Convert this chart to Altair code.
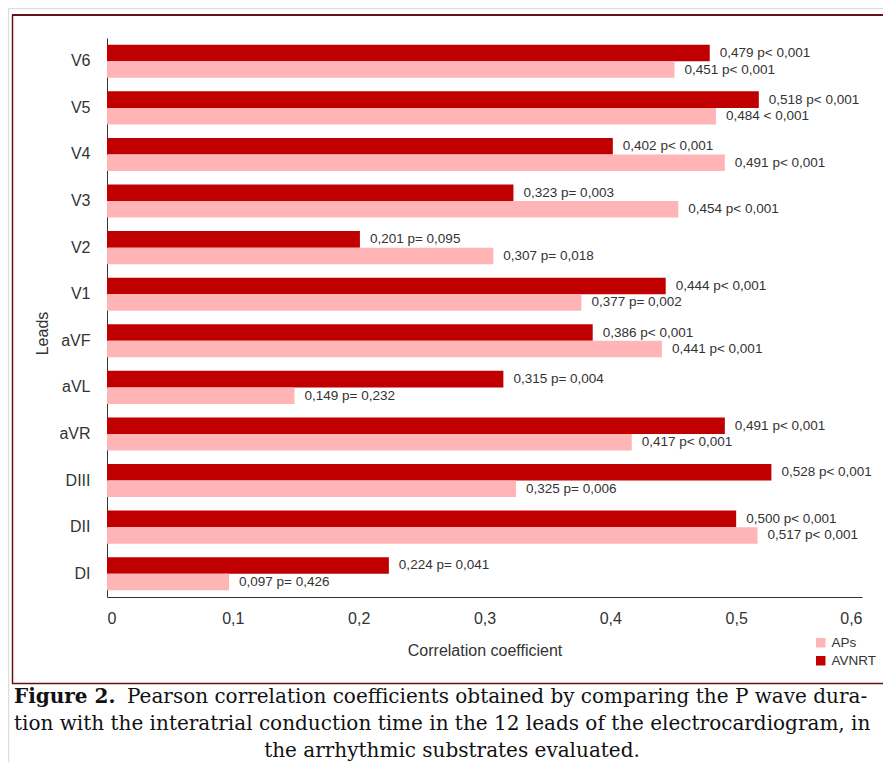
import altair as alt
import pandas as pd

leads = ["V6", "V5", "V4", "V3", "V2", "V1", "aVF", "aVL", "aVR", "DIII", "DII", "DI"]
avnrt = [0.479, 0.518, 0.402, 0.323, 0.201, 0.444, 0.386, 0.315, 0.491, 0.528, 0.500, 0.224]
avnrt_labels = ["0,479 p< 0,001", "0,518 p< 0,001", "0,402 p< 0,001", "0,323 p= 0,003",
                "0,201 p= 0,095", "0,444 p< 0,001", "0,386 p< 0,001", "0,315 p= 0,004",
                "0,491 p< 0,001", "0,528 p< 0,001", "0,500 p< 0,001", "0,224 p= 0,041"]
aps = [0.451, 0.484, 0.491, 0.454, 0.307, 0.377, 0.441, 0.149, 0.417, 0.325, 0.517, 0.097]
aps_labels = ["0,451 p< 0,001", "0,484 < 0,001", "0,491 p< 0,001", "0,454 p< 0,001",
              "0,307 p= 0,018", "0,377 p= 0,002", "0,441 p< 0,001", "0,149 p= 0,232",
              "0,417 p< 0,001", "0,325 p= 0,006", "0,517 p< 0,001", "0,097 p= 0,426"]
series_names = ["APs", "AVNRT"]
series_colors = ["#FFB5B5", "#C00000"]
x_ticks = [0, 0.1, 0.2, 0.3, 0.4, 0.5, 0.6]

caption_bold = "Figure 2."
caption_line1 = "Pearson correlation coefficients obtained by comparing the P wave dura-"
caption_line2 = "tion with the interatrial conduction time in the 12 leads of the electrocardiogram, in"
caption_line3 = "the arrhythmic substrates evaluated."

rows = []
for i, ld in enumerate(leads):
    rows.append({"lead": ld, "series": "AVNRT", "value": avnrt[i], "label": avnrt_labels[i]})
    rows.append({"lead": ld, "series": "APs", "value": aps[i], "label": aps_labels[i]})
df = pd.DataFrame(rows)

W, H = 755, 559
sans = "Liberation Sans"

base = alt.Chart(df).encode(
    y=alt.Y("lead:N", sort=leads,
            scale=alt.Scale(paddingInner=0.29, paddingOuter=0.145),
            axis=alt.Axis(title="Leads", titleAngle=270, titleX=-65, titleY=295,
                          titleAlign="center", titleBaseline="middle",
                          titleFontSize=16, titleFontWeight="normal", titleColor="#333",
                          labelFontSize=16, labelColor="#333", labelPadding=17,
                          ticks=False, domainColor="#333", labelFont=sans,
                          titleFont=sans)),
    yOffset=alt.YOffset("series:N", sort=["AVNRT", "APs"]),
)

bars = base.mark_bar().encode(
    x=alt.X("value:Q", scale=alt.Scale(domain=[0, 0.6], nice=False),
            axis=alt.Axis(title="Correlation coefficient", values=x_ticks, grid=False,
                          ticks=False, domainColor="#333", labelFontSize=16,
                          labelColor="#333", labelPadding=13, titlePadding=16,
                          titleFontSize=16, titleFontWeight="normal", titleColor="#333",
                          labelFont=sans, titleFont=sans,
                          labelExpr="datum.value == 0 ? '0' : replace(format(datum.value, '.1f'), '.', ',')")),
    color=alt.Color("series:N", scale=alt.Scale(domain=series_names, range=series_colors),
                    legend=alt.Legend(title=None, orient="none", legendX=707, legendY=598,
                                      symbolType="square", symbolSize=90,
                                      symbolStrokeWidth=1, labelFontSize=13.5,
                                      labelColor="#333", labelFont=sans,
                                      rowPadding=3)),
)

labels = base.mark_text(align="left", baseline="middle", dx=10, fontSize=13.5,
                        color="#333", font=sans).encode(
    x=alt.X("value:Q"),
    text="label:N",
)

one = pd.DataFrame({"k": [0]})

right_edge = 776
frame_col = "#6B1010"
frame_top = alt.Chart(one).mark_rule(color=frame_col, strokeWidth=2).encode(
    x=alt.value(-95), x2=alt.value(right_edge), y=alt.value(-23), y2=alt.value(-23))
frame_bottom = alt.Chart(one).mark_rule(color=frame_col, strokeWidth=1.5).encode(
    x=alt.value(-95), x2=alt.value(right_edge), y=alt.value(645.5), y2=alt.value(645.5))
frame_left = alt.Chart(one).mark_rule(color=frame_col, strokeWidth=1.5).encode(
    x=alt.value(-94.5), x2=alt.value(-94.5), y=alt.value(-23), y2=alt.value(645.5))
outer_top = alt.Chart(one).mark_rule(color="#DDDDDD", strokeWidth=1.5).encode(
    x=alt.value(-98.5), x2=alt.value(right_edge), y=alt.value(-29.5), y2=alt.value(-29.5))
outer_left = alt.Chart(one).mark_rule(color="#DDDDDD", strokeWidth=1.5).encode(
    x=alt.value(-98.5), x2=alt.value(-98.5), y=alt.value(-29.5), y2=alt.value(760))

cap_font = "DejaVu Serif"
cap_size = 20
cap_color = "#111111"
cap_b = alt.Chart(one).mark_text(text=caption_bold, align="left", baseline="alphabetic",
                                 font=cap_font, fontSize=cap_size, fontWeight="bold",
                                 color=cap_color).encode(x=alt.value(-93), y=alt.value(665))
cap_1 = alt.Chart(one).mark_text(text=caption_line1, align="left", baseline="alphabetic",
                                 font=cap_font, fontSize=cap_size, color=cap_color).encode(
    x=alt.value(20), y=alt.value(665))
cap_2 = alt.Chart(one).mark_text(text=caption_line2, align="left", baseline="alphabetic",
                                 font=cap_font, fontSize=cap_size, color=cap_color).encode(
    x=alt.value(-93), y=alt.value(692))
cap_3 = alt.Chart(one).mark_text(text=caption_line3, align="center", baseline="alphabetic",
                                 font=cap_font, fontSize=cap_size, color=cap_color).encode(
    x=alt.value(345), y=alt.value(719))

chart = alt.layer(outer_top, outer_left, frame_top, frame_bottom, frame_left,
                  bars, labels, cap_b, cap_1, cap_2, cap_3).properties(
    width=W, height=H,
    padding={"left": 99, "top": 30, "right": 21, "bottom": 165},
    autosize=alt.AutoSizeParams(type="none"),
    background="white",
).configure_view(stroke=None)

chart.save("out.html", embed_options={"renderer": "svg", "actions": False})
